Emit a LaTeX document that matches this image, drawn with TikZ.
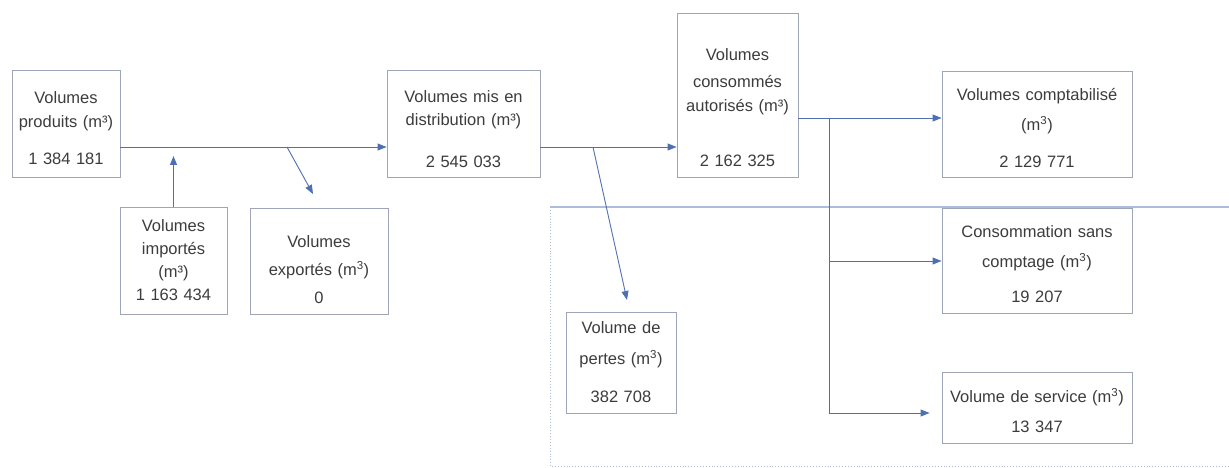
\documentclass[tikz,border=0pt]{standalone}
\usepackage{fontspec}
\setmainfont{Liberation Sans}
\usepackage{tikz}
\usetikzlibrary{calc}
\usetikzlibrary{positioning}
\usetikzlibrary{arrows.meta}
\definecolor{bleu}{HTML}{4F6FB3}
\definecolor{cadre}{HTML}{9EA5B8}
\definecolor{texte}{HTML}{3C3C3C}
\definecolor{zone}{HTML}{AFBBDA}
\newcommand{\decale}[1]{\rule{0pt}{#1}}

\begin{document}
\begin{tikzpicture}[x=1pt, y=-1pt,
	boite/.style={rectangle, draw=cadre, line width=0.9pt, inner sep=0pt, align=center, text=texte, font=\fontsize{16.5}{24}\selectfont},
	ligne/.style={draw=bleu, line width=0.9pt},
	fleche/.style={ligne, -{Triangle[length=9pt,width=7pt]}}]
				\useasboundingbox (0,0) rectangle (1229,468);

				% zone des pertes
				\draw[zone, line width=1.3pt] (550,207) -- (1229,207);
				\draw[zone, line width=0.9pt, dotted] (550,207) -- (550,466) -- (1229,466);

				\node[boite, minimum width=108pt, minimum height=107pt, text width=100pt] (P) at (66,123.5) {\decale{22pt}Volumes\\produits (m³)\\[13pt]1~384~181};
				\node[boite, minimum width=107pt, minimum height=107pt, text width=99pt] (I) at (173.5,260.5) {Volumes\\[-1pt]importés\\[-1pt](m³)\\[-1pt]1~163~434};
				\node[boite, minimum width=138pt, minimum height=106pt, text width=130pt] (E) at (319,261) {\decale{30pt}Volumes\\[4pt]exportés (m\textsuperscript{3})\\[4pt]0};
				\node[boite, minimum width=153pt, minimum height=107pt, text width=145pt] (D) at (463.5,123.5) {\decale{24pt}Volumes mis en\\[-1pt]distribution (m³)\\[18pt]2~545~033};
				\node[boite, minimum width=121pt, minimum height=164pt, text width=115pt] (C) at (737.5,95) {\decale{38pt}Volumes\\[3pt]consommés\\autorisés (m³)\\[31pt]2~162~325};
				\node[boite, minimum width=190pt, minimum height=106pt, text width=180pt] (K) at (1037,124) {\decale{21pt}Volumes comptabilisé\\[6pt](m\textsuperscript{3})\\[13pt]2~129~771};
				\node[boite, minimum width=190pt, minimum height=105pt, text width=180pt] (S) at (1037,260.5) {\decale{20pt}Consommation sans\\[6pt]comptage (m\textsuperscript{3})\\[11pt]19~207};
				\node[boite, minimum width=190pt, minimum height=71pt, text width=180pt] (V) at (1037,407.5) {\decale{21pt}Volume de service (m\textsuperscript{3})\\[6pt]13~347};
				\node[boite, minimum width=110pt, minimum height=101pt, text width=104pt] (L) at (621,362.5) {Volume de\\[7pt]pertes (m\textsuperscript{3})\\[14pt]382~708};

				\coordinate (j1) at (173.5,147);
				\coordinate (j2) at (287,147);
				\coordinate (e2) at (313,194);
				\coordinate (j3) at (593,147);
				\coordinate (e3) at (627,300);
				\coordinate (j4) at (829,118);
				\coordinate (j5) at (829,261);
				\coordinate (j6) at (829,413);

				\draw[fleche] (P.east |- j1) -- (D.west |- j1);
				\draw[fleche, shorten >=9pt] (I.north) -- (j1);
				\draw[fleche] (j2) -- (e2);
				\draw[fleche] (D.east |- j3) -- (C.west |- j3);
				\draw[fleche] (j3) -- (e3);
				\draw[fleche] (C.east |- j4) -- (K.west |- j4);
				\draw[ligne] (j4) -- (j6);
				\draw[fleche] (j5) -- (S.west |- j5);
				\draw[fleche, shorten >=12pt] (j6) -- (V.west |- j6);
			\end{tikzpicture}
\end{document}
